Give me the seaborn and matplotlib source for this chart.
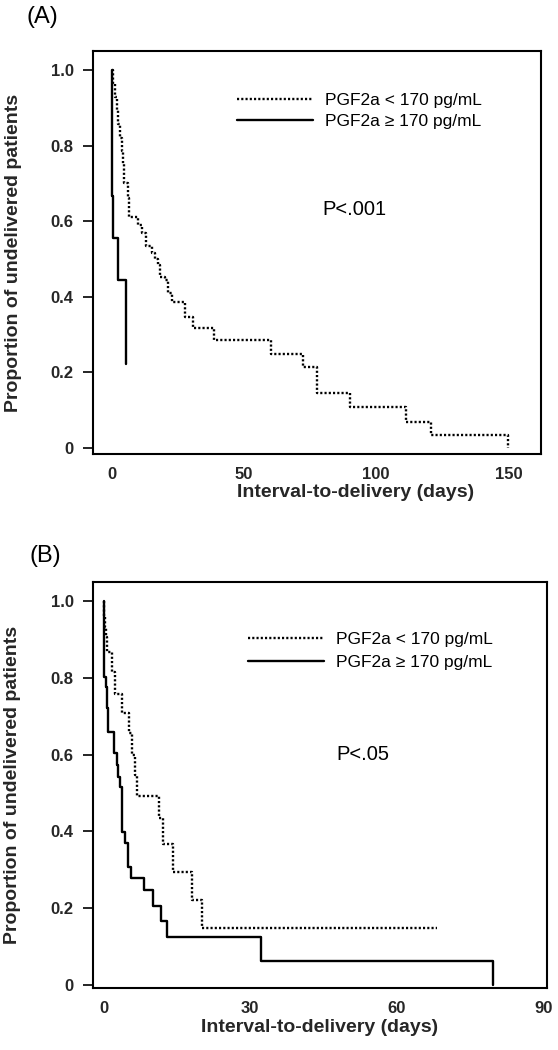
import numpy as np
import pandas as pd
import matplotlib
matplotlib.use("Agg")
import matplotlib.pyplot as plt
import seaborn as sns

# panel A: interval-to-delivery (days) and proportion undelivered
a_low_days = [0, 0.5, 1.2, 1.9, 2.6, 3.3, 4.0, 4.4, 4.7, 6.2, 6.6, 10.1, 11.4, 12.9,
              15.2, 16.4, 17.7, 18.3, 20.2, 21.5, 22.7, 27.8, 30.9, 38.7, 60.1,
              72.5, 77.5, 90.1, 111.1, 120.6, 149.8]
a_low_surv = [1.0, 0.964, 0.929, 0.893, 0.857, 0.821, 0.786, 0.75, 0.70, 0.66, 0.612,
              0.59, 0.568, 0.533, 0.516, 0.50, 0.484, 0.453, 0.444, 0.409, 0.387,
              0.347, 0.317, 0.286, 0.249, 0.215, 0.145, 0.108, 0.070, 0.034, 0.0]
a_high_days = [0, 0, 0.4, 2.6, 5.5]
a_high_surv = [1.0, 0.667, 0.556, 0.444, 0.222]

# panel B
b_low_days = [0, 0.1, 0.3, 0.5, 0.65, 1.8, 2.3, 3.7, 5.3, 5.8, 6.4, 6.8, 11.4, 12.1,
              14.3, 18.2, 20.1, 68.2]
b_low_surv = [1.0, 0.958, 0.932, 0.906, 0.867, 0.815, 0.759, 0.709, 0.655, 0.598,
              0.546, 0.492, 0.434, 0.367, 0.295, 0.221, 0.148, 0.148]
b_high_days = [0, 0.14, 0.45, 0.78, 1.0, 2.15, 2.7, 3.0, 3.4, 3.7, 3.85, 4.4, 5.1, 5.6,
               8.3, 10.1, 11.7, 12.9, 32.2, 79.7]
b_high_surv = [1.0, 0.802, 0.776, 0.72, 0.659, 0.603, 0.572, 0.542, 0.516, 0.486,
               0.399, 0.369, 0.308, 0.278, 0.247, 0.206, 0.167, 0.126, 0.061, 0.0]

labels = ["PGF2a < 170 pg/mL", "PGF2a \u2265 170 pg/mL"]
yticks = [0, 0.2, 0.4, 0.6, 0.8, 1.0]
yticklabels = ["0", "0.2", "0.4", "0.6", "0.8", "1.0"]
a_xticks = [0, 50, 100, 150]
b_xticks = [0, 30, 60, 90]

sns.set_theme(style="ticks")
plt.rcParams['font.family'] = ['Liberation Sans', 'DejaVu Sans']
plt.rcParams['text.color'] = 'black'

fig = plt.figure(figsize=(5.58, 10.5), dpi=100)
ax_a = fig.add_axes([0.1667, 0.5676, 0.803, 0.3838])
ax_b = fig.add_axes([0.1667, 0.0587, 0.8136, 0.3872])


def draw_panel(ax, low_t, low_s, high_t, high_s, xticks, xlim, ylim, ptext, ptxt_pos,
               leg_pos, leg_space, xlab_x):
    sns.lineplot(x=low_t, y=low_s, ax=ax, estimator=None, sort=False,
                 drawstyle='steps-post', color='black', lw=1.7,
                 linestyle=(0, (0.9, 0.9)), label=labels[0])
    sns.lineplot(x=high_t, y=high_s, ax=ax, estimator=None, sort=False,
                 drawstyle='steps-post', color='black', lw=1.7,
                 label=labels[1])
    ax.set_xlim(xlim)
    ax.set_ylim(ylim)
    ax.set_xticks(xticks)
    ax.set_xticklabels([str(v) for v in xticks])
    ax.set_yticks(yticks)
    ax.set_yticklabels(yticklabels)
    for side in ['top', 'right', 'left', 'bottom']:
        ax.spines[side].set_visible(True)
        ax.spines[side].set_linewidth(1.5)
        ax.spines[side].set_color('black')
    ax.tick_params(axis='x', length=0, pad=9, labelsize=12)
    ax.tick_params(axis='y', length=7, width=1.2, pad=7, labelsize=12, color='black')
    for t in ax.get_xticklabels() + ax.get_yticklabels():
        t.set_fontweight('bold')
    ax.set_xlabel('Interval-to-delivery (days)', fontsize=14, fontweight='bold')
    ax.set_ylabel('Proportion of undelivered patients', fontsize=14, fontweight='bold')
    ax.xaxis.set_label_coords(xlab_x, -0.075)
    ax.yaxis.set_label_coords(-0.158, 0.5)
    ax.text(ptxt_pos[0], ptxt_pos[1], ptext, transform=ax.transAxes,
            fontsize=14.5, va='center', ha='left')
    ax.legend(loc='center left', bbox_to_anchor=leg_pos, frameon=False,
              fontsize=12.5, handlelength=4.4, handletextpad=0.65,
              labelspacing=leg_space, borderpad=0, borderaxespad=0)


draw_panel(ax_a, a_low_days, a_low_surv, a_high_days, a_high_surv, a_xticks,
           (-7.0, 162.3), (-0.016, 1.05), "P<.001", (0.511, 0.608), (0.321, 0.852),
           0.32, 0.585)
draw_panel(ax_b, b_low_days, b_low_surv, b_high_days, b_high_surv, b_xticks,
           (-2.15, 90.8), (-0.009, 1.05), "P<.05", (0.535, 0.574), (0.341, 0.830),
           0.5, 0.5)

fig.text(42 / 558, 1 - 17 / 1050, "(A)", fontsize=17, ha='center', va='center')
fig.text(45 / 558, 1 - 556 / 1050, "(B)", fontsize=17, ha='center', va='center')

fig.savefig("out.png", dpi=100)
